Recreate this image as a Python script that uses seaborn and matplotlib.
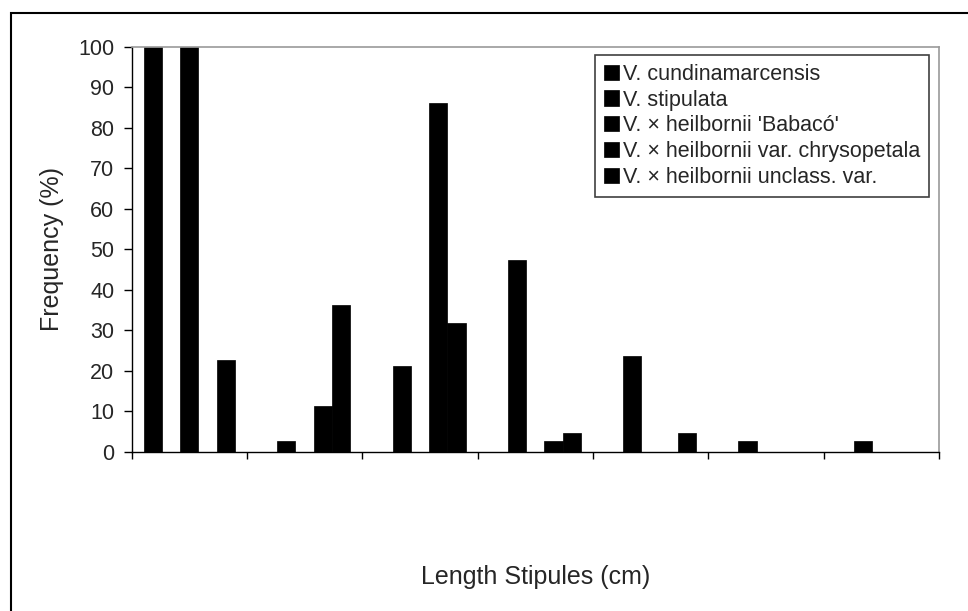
import pandas as pd
import matplotlib.pyplot as plt
import matplotlib.patches as mpatches
import seaborn as sns

# length classes (tick labels are not shown on the original)
length_classes = ['1', '2', '3', '4', '5', '6', '7']
species = [
    "V. cundinamarcensis",
    "V. stipulata",
    "V. × heilbornii 'Babacó'",
    "V. × heilbornii var. chrysopetala",
    "V. × heilbornii unclass. var.",
]
cundinamarcensis = [100, 0, 0, 0, 0, 0, 0]
stipulata = [0, 2.6, 21.1, 47.4, 23.7, 2.6, 2.6]
babaco = [100, 0, 0, 0, 0, 0, 0]
chrysopetala = [0, 11.3, 86.2, 2.6, 0, 0, 0]
unclass_var = [22.7, 36.3, 31.8, 4.5, 4.5, 0, 0]
y_ticks = [0, 10, 20, 30, 40, 50, 60, 70, 80, 90, 100]

rows = []
for sp, vals in zip(species, [cundinamarcensis, stipulata, babaco, chrysopetala, unclass_var]):
    for cls, v in zip(length_classes, vals):
        rows.append({'Length': cls, 'Species': sp, 'Frequency': v})
df = pd.DataFrame(rows)

sns.set_style("white")
plt.rcParams['font.family'] = ['Liberation Sans', 'DejaVu Sans']

fig = plt.figure(figsize=(9.68, 6.11), dpi=100)
ax = fig.add_axes([0.136, 0.2607, 0.834, 0.6629])

sns.barplot(
    data=df, x='Length', y='Frequency', hue='Species',
    order=length_classes, hue_order=species,
    palette=['black'] * 5, width=0.794, errorbar=None,
    edgecolor='black', linewidth=0.5, ax=ax
)

ax.set_xlim(-0.5, len(length_classes) - 0.5)
ax.set_ylim(0, 100)
ax.set_yticks(y_ticks)
ax.set_yticklabels([str(t) for t in y_ticks])
ax.set_xticks([i - 0.5 for i in range(len(length_classes) + 1)])
ax.set_xticklabels([])
ax.tick_params(axis='y', direction='out', length=5.5, width=1, pad=7,
               labelsize=15.5, left=True, color='black')
ax.tick_params(axis='x', direction='out', length=5, width=1, bottom=True, color='black')

for side in ['left', 'bottom']:
    ax.spines[side].set_color('black')
    ax.spines[side].set_linewidth(1)
for side in ['top', 'right']:
    ax.spines[side].set_visible(True)
    ax.spines[side].set_color('#9a9a9a')
    ax.spines[side].set_linewidth(1.2)

ax.set_xlabel("Length Stipules (cm)", fontsize=18)
ax.xaxis.set_label_coords(0.5, -0.28)
ax.set_ylabel("Frequency (%)", fontsize=18)
ax.yaxis.set_label_coords(-0.084, 0.5)

handles, labels = ax.get_legend_handles_labels()
leg = ax.legend(
    handles, labels, loc='upper right', bbox_to_anchor=(0.9876, 0.9795),
    borderaxespad=0, fontsize=15.5, frameon=True, fancybox=False,
    edgecolor='#404040', framealpha=1, handlelength=0.7, handleheight=0.7,
    handletextpad=0.2, labelspacing=0.23, borderpad=0.4
)
leg.get_frame().set_linewidth(1.2)

# outer chart border
fig.patches.append(mpatches.Rectangle(
    (0.011, -0.02), 1.0, 0.998, transform=fig.transFigure,
    fill=False, edgecolor='black', linewidth=1.5
))

fig.savefig('out.png', dpi=100, facecolor='white')
